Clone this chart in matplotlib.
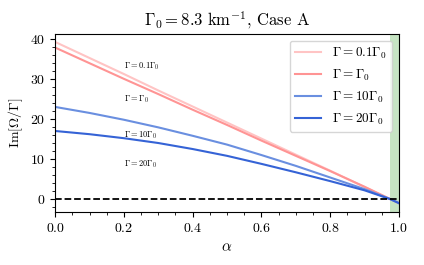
import numpy as np
import matplotlib
matplotlib.use('Agg')
import matplotlib.pyplot as plt
from matplotlib.ticker import MultipleLocator

plt.rcParams['font.family'] = 'cmr10'
plt.rcParams['mathtext.fontset'] = 'cm'
plt.rcParams['axes.formatter.use_mathtext'] = True

# growth rate vs alpha for each Gamma
alpha = [0.0, 0.1, 0.2, 0.3, 0.4, 0.5, 0.6, 0.7, 0.8, 0.9, 0.975, 1.0]
g_01 = [39.2, 35.2, 31.2, 27.1, 23.1, 19.1, 15.1, 11.1, 7.1, 3.0, 0.0, -1.0]
g_1 = [37.8, 33.9, 30.0, 26.2, 22.3, 18.5, 14.6, 10.8, 7.0, 3.1, 0.0, -1.0]
g_10 = [23.0, 21.5, 19.8, 17.9, 15.8, 13.6, 11.0, 8.3, 5.4, 2.5, 0.0, -1.0]
g_20 = [17.0, 16.2, 15.2, 14.0, 12.5, 10.8, 8.8, 6.7, 4.5, 2.2, 0.0, -1.0]

labels = [r'$\Gamma = 0.1\Gamma_0$', r'$\Gamma = \Gamma_0$',
          r'$\Gamma = 10\Gamma_0$', r'$\Gamma = 20\Gamma_0$']
colors = ['#ffc4c4', '#ff9494', '#6a8fe0', '#3563d6']
label_y = [33.2, 24.8, 16.0, 8.8]

fig = plt.figure(figsize=(4.24, 2.65), dpi=100)
ax = fig.add_axes([0.13, 0.2, 0.811, 0.672])

for g, lab, c in zip([g_01, g_1, g_10, g_20], labels, colors):
    ax.plot(alpha, g, color=c, lw=1.5, label=lab)

ax.axhline(0, color='k', ls='--', lw=1.3)
ax.axvspan(0.975, 1.0, color='#c6e4c3', lw=0)

for lab, yy in zip(labels, label_y):
    ax.text(0.2, yy, lab, fontsize=6, va='center')

ax.set_xlim(0, 1)
ax.set_ylim(-3.2, 41.2)
ax.xaxis.set_major_locator(MultipleLocator(0.2))
ax.xaxis.set_minor_locator(MultipleLocator(0.05))
ax.yaxis.set_major_locator(MultipleLocator(10))
ax.yaxis.set_minor_locator(MultipleLocator(2))
ax.tick_params(labelsize=10)

ax.set_xlabel(r'$\alpha$', fontsize=11)
ax.set_ylabel(r'$\rm{Im}[\Omega/\Gamma]$', fontsize=10)
ax.set_title(r'$\Gamma_0 = 8.3\ \rm{km}^{-1}$, Case A', fontsize=12)
ax.legend(loc='upper right', fontsize=9.5)

plt.savefig('out.png', dpi=100)
